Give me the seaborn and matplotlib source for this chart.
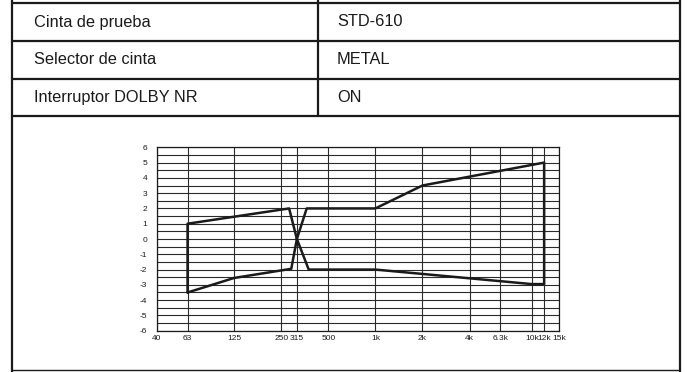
import matplotlib
matplotlib.use("Agg")
import matplotlib.pyplot as plt
from matplotlib.lines import Line2D
from matplotlib.ticker import FixedLocator, NullLocator
import seaborn as sns
import pandas as pd

# Tabla de condiciones
etiquetas = ["Cinta de prueba", "Selector de cinta", "Interruptor DOLBY NR"]
valores = ["STD-610", "METAL", "ON"]

# Curva de tolerancia (bucle cerrado): frecuencia (Hz) y nivel (dB)
frecuencia = [63, 63, 281, 315, 375, 1000, 10000, 12000, 12000,
              2000, 1000, 364, 315, 290, 125, 63]
nivel = [-3.5, 1.0, 2.0, 0.0, -2.0, -2.0, -2.95, -2.95, 5.0,
         3.5, 2.0, 2.0, 0.0, -1.95, -2.55, -3.5]

# Ejes
ticks_x = [40, 63, 125, 250, 315, 500, 1000, 2000, 4000, 6300, 10000, 12000, 15000]
etiquetas_x = ["40", "63", "125", "250", "315", "500", "1k", "2k", "4k",
               "6.3k", "10k", "12k", "15k"]
ticks_y = [6, 5, 4, 3, 2, 1, 0, -1, -2, -3, -4, -5, -6]
etiquetas_y = ["6", "5", "4", "3", "2", "1", "0", "-1", "-2", "-3", "-4", "-5", "-6"]

sns.set_style("white")
plt.rcParams["font.family"] = ["Liberation Sans", "DejaVu Sans"]

W, H = 687, 372
fig = plt.figure(figsize=(W / 100, H / 100), dpi=100)
fig.patch.set_facecolor("white")

tinta = "#1a1a1a"


def linea(x0, y0, x1, y1, lw=1.6):
    fig.add_artist(Line2D([x0 / W, x1 / W], [1 - y0 / H, 1 - y1 / H],
                          transform=fig.transFigure, color=tinta, lw=lw))


# Marco de la tabla
for y in [3, 41, 79, 116]:
    linea(12, y, 680, y)
linea(12, 370, 680, 370, lw=1.0)
linea(12, 0, 12, H)
linea(680, 0, 680, H)
linea(318, 0, 318, 116)

centros = [22, 60, 97.5]
for yc, et, val in zip(centros, etiquetas, valores):
    fig.text(34 / W, 1 - yc / H, et, fontsize=11.8, color=tinta, va="center", ha="left")
    fig.text(337 / W, 1 - yc / H, val, fontsize=11.8, color=tinta, va="center", ha="left")

# Gráfico
ax = fig.add_axes([156.7 / W, 1 - 330.7 / H, (559.3 - 156.7) / W, (330.7 - 147.3) / H])
df = pd.DataFrame({"f": frecuencia, "dB": nivel})
sns.lineplot(data=df, x="f", y="dB", sort=False, estimator=None,
             color=tinta, lw=1.8, ax=ax, zorder=3)

ax.set_xscale("log")
ax.set_xlim(40, 15000)
ax.set_ylim(-6, 6)
ax.xaxis.set_major_locator(FixedLocator(ticks_x))
ax.xaxis.set_minor_locator(NullLocator())
ax.set_xticklabels(etiquetas_x)
ax.yaxis.set_major_locator(FixedLocator(ticks_y))
ax.set_yticklabels(etiquetas_y)
ax.yaxis.set_minor_locator(FixedLocator([t + 0.5 for t in ticks_y[1:]]))
ax.grid(True, which="both", color="#2a2a2a", lw=0.8)
ax.tick_params(axis="both", which="both", length=0, labelsize=6, colors=tinta)
ax.tick_params(axis="y", pad=7)
ax.tick_params(axis="x", pad=3)
ax.set_xlabel("")
ax.set_ylabel("")
for s in ax.spines.values():
    s.set_visible(True)
    s.set_color(tinta)
    s.set_linewidth(0.9)

fig.savefig("out.png", dpi=100)
